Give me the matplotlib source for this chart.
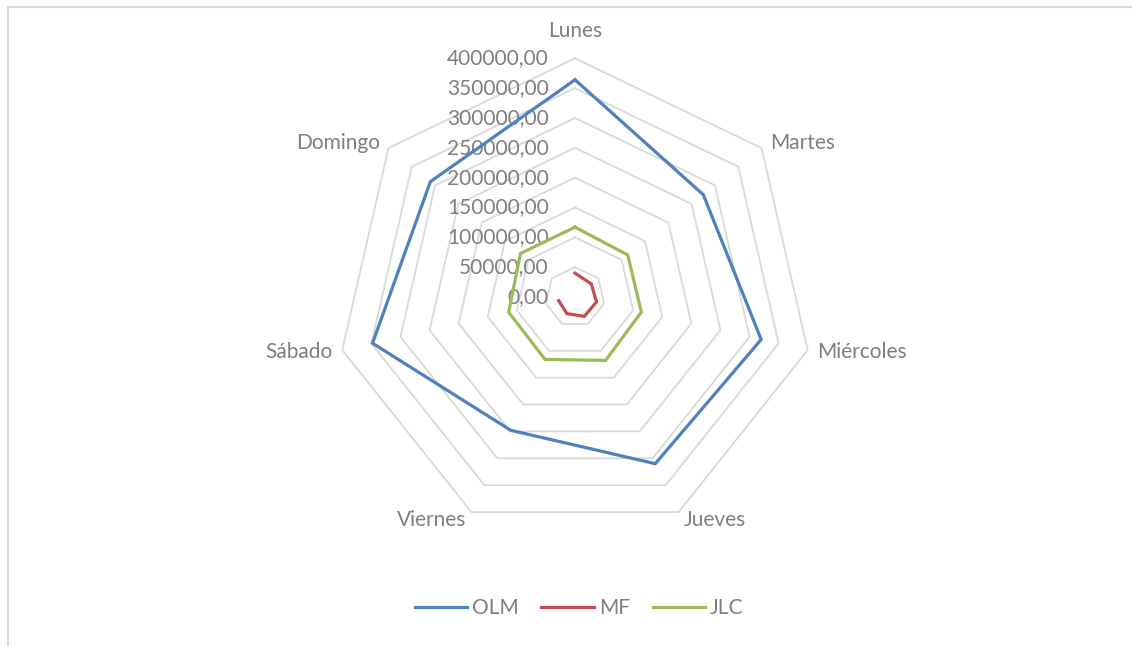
import numpy as np
import matplotlib
matplotlib.use("Agg")
import matplotlib.pyplot as plt
from matplotlib.patches import Rectangle

categories = ["Lunes", "Martes", "Miércoles", "Jueves", "Viernes", "Sábado", "Domingo"]
olm = [364000, 275000, 320000, 310000, 248000, 348000, 310000]
mf = [40000, 35000, 37000, 36000, 31000, 28000, np.nan]
jlc = [117000, 113000, 114000, 118000, 116000, 114000, 117000]
rings = [0, 50000, 100000, 150000, 200000, 250000, 300000, 350000, 400000]
ring_labels = ["0,00", "50000,00", "100000,00", "150000,00", "200000,00",
               "250000,00", "300000,00", "350000,00", "400000,00"]
series = [("OLM", olm, "#4F81BD"), ("MF", mf, "#C0504D"), ("JLC", jlc, "#9BBB59")]

W, H = 1132, 646
fig = plt.figure(figsize=(W / 100, H / 100), dpi=100)
plt.rcParams['font.family'] = ['Lato', 'DejaVu Sans']
txt_color = "#7F7F7F"

# chart border
fig.patches.append(Rectangle((8 / W, -0.01), 1.2, 1 - 7 / H + 0.01, transform=fig.transFigure,
                             fill=False, edgecolor="#D9D9D9", linewidth=1.5))

cx, cy, R = 575, 297, 238.7
ax = fig.add_axes([(cx - R) / W, (H - cy - R) / H, 2 * R / W, 2 * R / H], projection="polar")
ax.set_theta_offset(np.pi / 2)
ax.set_theta_direction(-1)
ax.set_ylim(0, rings[-1])
ax.grid(False)
ax.spines["polar"].set_visible(False)
ax.set_xticks([])
ax.set_yticks([])
ax.patch.set_alpha(0)

n = len(categories)
theta = np.arange(n) * 2 * np.pi / n
theta_c = np.append(theta, theta[0])

for r in rings[1:]:
    ax.plot(theta_c, [r] * (n + 1), color="#D9D9D9", linewidth=1.3, zorder=1, clip_on=False)

for name, vals, col in series:
    v = np.append(vals, vals[0])
    ax.plot(theta_c, v, color=col, linewidth=2.3, label=name, zorder=3, clip_on=False,
            solid_joinstyle="miter")

for r, lab in zip(rings, ring_labels):
    ax.annotate(lab, xy=(0, r), xytext=(-19, 0), textcoords="offset points",
                ha="right", va="center", fontsize=15, color=txt_color, zorder=2,
                annotation_clip=False)

offsets = [(0, 20, "center"), (6, 4, "left"), (7, -1, "left"), (4, -6, "left"),
           (-4, -6, "right"), (-7, -1, "right"), (-6, 4, "right")]
for t, cat, (dx, dy, ha) in zip(theta, categories, offsets):
    ax.annotate(cat, xy=(t, rings[-1]), xytext=(dx, dy), textcoords="offset points",
                ha=ha, va="center", fontsize=15, color=txt_color, annotation_clip=False)

leg = fig.legend(loc="center", bbox_to_anchor=(579 / W, 1 - 608 / H), ncol=3, frameon=False,
                 fontsize=15, handlelength=2.5, handletextpad=0.25, columnspacing=1.1)
for t in leg.get_texts():
    t.set_color(txt_color)
for l in leg.get_lines():
    l.set_linewidth(2.3)

fig.savefig("out.png", dpi=100)
